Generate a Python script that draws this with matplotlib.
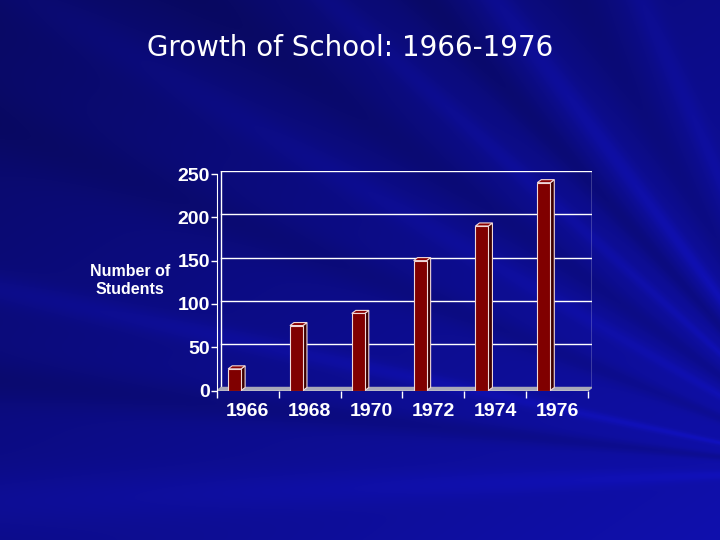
import numpy as np
import matplotlib
matplotlib.use("Agg")
import matplotlib.pyplot as plt

# Data
years = ["1966", "1968", "1970", "1972", "1974", "1976"]
students = [25, 75, 89, 150, 190, 240]
yticks = [0, 50, 100, 150, 200, 250]

# 3D look: shift between front plane and back wall (data units)
dx = 0.065
dy = 3.5
bar_off = 0.18
bar_w = 0.21

fig = plt.figure(figsize=(7.2, 5.4), dpi=100)

# Slide background: blue gradient with soft rays
H, W = 540, 720
yy, xx = np.mgrid[0:H, 0:W]
blue = 100 + 35 * xx / W + 38 * yy / H
cx, cy = 850, 470
ang = np.degrees(np.arctan2(cy - yy, cx - xx))
ray = np.zeros_like(blue)
for a0, amp, wid in [(53, 0.16, 1.5), (48, -0.15, 2.0), (42, 0.12, 1.2), (36, -0.12, 2.5),
                     (30, 0.10, 1.5), (22, -0.10, 2.0), (12, 0.14, 1.0), (6, -0.12, 1.5),
                     (-2, 0.10, 2.0), (60, -0.12, 3.0), (66, 0.10, 1.5)]:
    ray += amp * np.exp(-((ang - a0) / wid) ** 2)
blue = np.clip(blue * (1 + ray), 0, 255)
img = np.dstack([blue * 0.09, blue * 0.09, blue]) / 255
bg = fig.add_axes([0, 0, 1, 1])
bg.imshow(np.clip(img, 0, 1), aspect="auto")
bg.axis("off")

fig.text(0.486, 0.911, "Growth of School: 1966-1976", color="white",
         fontsize=20, family="DejaVu Sans", ha="center", va="center")

ax = fig.add_axes([217 / 720, (540 - 390.5) / 540, 375 / 720, 219.5 / 540])
ax.patch.set_alpha(0)
ax.set_xlim(-0.5, 5.5 + dx)
ax.set_ylim(-dy, 250)

n = len(years)
# back wall gridlines and frame
for v in yticks[1:]:
    ax.plot([-0.5 + dx, 5.5 + dx], [v, v], color="white", lw=1)
ax.plot([-0.5 + dx, -0.5 + dx], [0, 250], color="white", lw=1)
ax.plot([5.5 + dx, 5.5 + dx], [0, 250], color="white", lw=1)
# floor
ax.fill([-0.5, 5.5, 5.5 + dx, -0.5 + dx], [-dy, -dy, 0, 0], color="#a8a8b8", zorder=2)
ax.plot([-0.5, 5.5], [-dy, -dy], color="white", lw=1, zorder=2)

# bars
for i, v in enumerate(students):
    x0 = i - 0.5 + bar_off
    x1 = x0 + bar_w
    ax.fill([x1, x1 + dx, x1 + dx, x1], [-dy, 0, v, v - dy],
            facecolor="#3c0000", edgecolor="#f0d8d8", lw=0.8, zorder=3)
    ax.fill([x0, x0 + dx, x1 + dx, x1], [v - dy, v, v, v - dy],
            facecolor="#8a0000", edgecolor="#f0d8d8", lw=0.8, zorder=3)
    ax.bar(x0, v, width=bar_w, bottom=-dy, align="edge", color="#800000",
           edgecolor="#f0d8d8", lw=0.8, zorder=4)

for s in ["top", "right", "bottom"]:
    ax.spines[s].set_visible(False)
ax.spines["left"].set_color("white")
ax.spines["left"].set_bounds(-dy, 250 - dy)

ax.set_yticks([v - dy for v in yticks])
ax.set_yticklabels([str(v) for v in yticks])
ax.tick_params(axis="y", colors="white", length=4, width=1, pad=1)

ax.set_xticks(range(n))
ax.set_xticklabels(years)
ax.set_xticks([i - 0.5 for i in range(n + 1)], minor=True)
ax.tick_params(axis="x", which="major", length=0, pad=9, colors="white")
ax.tick_params(axis="x", which="minor", length=5, width=1, color="white")
for t in ax.get_xticklabels() + ax.get_yticklabels():
    t.set_fontfamily("Liberation Sans")
    t.set_fontweight("bold")
    t.set_fontsize(14)

fig.text(130 / 720, 1 - 281 / 540, "Number of\nStudents", color="white",
         fontsize=11.5, fontweight="bold", family="Liberation Sans",
         ha="center", va="center", linespacing=1.25)

fig.savefig("out.png", dpi=100)
